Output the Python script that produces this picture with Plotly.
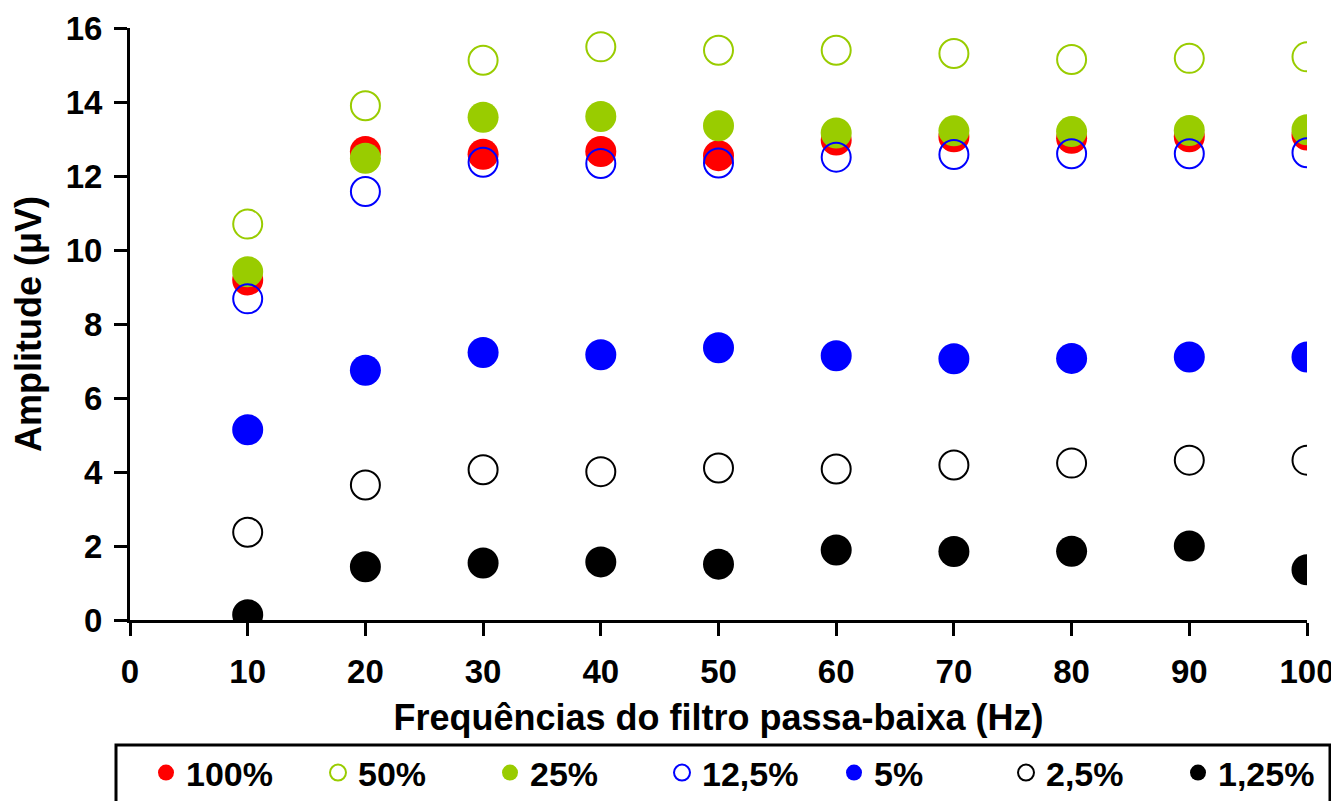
import plotly.graph_objects as go

freqs = [10, 20, 30, 40, 50, 60, 70, 80, 90, 100]

s100 = [9.19, 12.66, 12.59, 12.66, 12.55, 12.97, 13.06, 13.02, 13.06, 13.11]
s50 = [10.70, 13.90, 15.13, 15.49, 15.40, 15.40, 15.31, 15.15, 15.18, 15.22]
s25 = [9.41, 12.48, 13.59, 13.61, 13.36, 13.16, 13.22, 13.20, 13.23, 13.25]
s12_5 = [8.68, 11.58, 12.37, 12.34, 12.35, 12.51, 12.58, 12.60, 12.60, 12.63]
s5 = [5.14, 6.75, 7.23, 7.17, 7.36, 7.14, 7.06, 7.07, 7.11, 7.11]
s2_5 = [2.37, 3.65, 4.06, 4.01, 4.11, 4.08, 4.19, 4.24, 4.32, 4.32]
s1_25 = [0.14, 1.44, 1.54, 1.57, 1.51, 1.89, 1.85, 1.86, 2.00, 1.36]

x_ticks = [0, 10, 20, 30, 40, 50, 60, 70, 80, 90, 100]
y_ticks = [0, 2, 4, 6, 8, 10, 12, 14, 16]

series = [
    ("100%", s100, "#FF0000", False),
    ("50%", s50, "#99CC00", True),
    ("25%", s25, "#99CC00", False),
    ("12,5%", s12_5, "#0000FF", True),
    ("5%", s5, "#0000FF", False),
    ("2,5%", s2_5, "#000000", True),
    ("1,25%", s1_25, "#000000", False),
]

FONT = "Liberation Sans, Arial, sans-serif"
TICK_SIZE = 33
TITLE_SIZE = 36
LEG_SIZE = 34

# layout geometry (page body adds an 8px offset)
W, H = 1331, 793
ML, MR, MT, MB = 122, 32, 20, 181
PW = W - ML - MR
PH = H - MT - MB

def px_x(px):
    return (px - 8 - ML) / PW

def px_y(py):
    return (H - MB + 8 - py) / PH

fig = go.Figure()
for name, vals, color, is_open in series:
    if is_open:
        marker = dict(symbol="circle-open", size=29, color=color, line=dict(width=2, color=color))
    else:
        marker = dict(symbol="circle", size=31, color=color, line=dict(width=0))
    fig.add_trace(go.Scatter(x=freqs, y=vals, mode="markers", name=name, marker=marker))

# legend frame
fig.add_shape(type="rect", xref="paper", yref="paper",
              x0=px_x(116), x1=px_x(1330), y0=px_y(745), y1=px_y(815),
              line=dict(color="black", width=3), fillcolor="rgba(0,0,0,0)", layer="below")

fig.update_layout(
    width=W, height=H,
    margin=dict(l=ML, r=MR, t=MT, b=MB, autoexpand=False),
    paper_bgcolor="white", plot_bgcolor="white",
    font=dict(family=FONT, size=TICK_SIZE, color="black"),
    showlegend=True,
    legend=dict(
        orientation="h",
        x=px_x(117), xanchor="left",
        y=px_y(773), yanchor="middle",
        borderwidth=0, bgcolor="rgba(0,0,0,0)",
        font=dict(family=FONT, size=LEG_SIZE, color="black", weight="bold"),
        entrywidth=98,
        indentation=29,
        itemsizing="trace",
        tracegroupgap=0,
    ),
    xaxis=dict(
        range=[0, 100], tickvals=x_ticks, ticktext=[str(v) for v in x_ticks],
        showgrid=False, zeroline=False,
        showline=True, linecolor="black", linewidth=3,
        ticks="outside", ticklen=13, tickwidth=3, tickcolor="black",
        ticklabelstandoff=7,
        tickfont=dict(family=FONT, size=TICK_SIZE, color="black", weight="bold"),
        title=dict(text="Frequências do filtro passa-baixa (Hz)", standoff=17,
                   font=dict(family=FONT, size=TITLE_SIZE, color="black", weight="bold")),
        automargin=False,
    ),
    yaxis=dict(
        range=[0, 16], tickvals=y_ticks, ticktext=[str(v) for v in y_ticks],
        showgrid=False, zeroline=False,
        showline=True, linecolor="black", linewidth=3,
        ticks="outside", ticklen=13, tickwidth=3, tickcolor="black",
        ticklabelstandoff=5,
        tickfont=dict(family=FONT, size=TICK_SIZE, color="black", weight="bold"),
        title=dict(text="Amplitude (μV)", standoff=14,
                   font=dict(family=FONT, size=TITLE_SIZE, color="black", weight="bold")),
        automargin=False,
    ),
)

fig.write_html("out.html")
